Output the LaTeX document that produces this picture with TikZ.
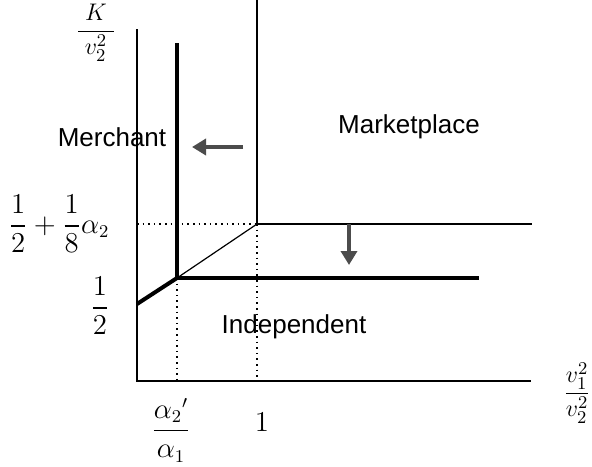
\documentclass[tikz,border=0pt]{standalone}
\usepackage{amsmath}
\usepackage{fontspec}
\setsansfont{Liberation Sans}
\usetikzlibrary{arrows.meta}
\begin{document}
\begin{tikzpicture}[x=0.5pt, y=-0.5pt, >=stealth,
    region/.style={font=\sffamily\fontsize{13}{15}\selectfont},
    tick/.style={font=\fontsize{13.5}{16}\selectfont, inner sep=1pt},
    axlab/.style={font=\fontsize{12.5}{15}\selectfont, inner sep=1pt},
    moveline/.style={draw=black!70, line width=2.2pt, -{Triangle[width=8pt, length=7pt]}}]
    \useasboundingbox (0,0) rectangle (592,466);

    % axes
    \draw[line width=1pt] (137,29) -- (137,381) -- (531,381);

    % dotted guides
    \draw[dotted, line width=0.8pt] (137,224) -- (257,224);
    \draw[dotted, line width=0.8pt] (177,278) -- (177,381);
    \draw[dotted, line width=0.8pt] (257,224) -- (257,381);

    % thin boundaries
    \draw[line width=0.9pt] (257,0) -- (257,224) -- (532,224);
    \draw[line width=0.6pt] (177,278) -- (257,224);

    % thick boundaries
    \draw[line width=2pt] (177,43) -- (177,278) -- (479,278);
    \draw[line width=2pt] (137,304) -- (177,278);

    % shifts
    \draw[moveline] (243,147) -- (192,147);
    \draw[moveline] (349,224) -- (349,265);

    % region names
    \node[region] (merchant) at (112,137) {Merchant};
    \node[region] (market) at (409,127) {Marketplace};
    \node[region] (indep) at (294,327) {Independent};

    % axis labels
    \node[axlab] (ylab) at (96,33) {$\dfrac{\;K\;}{v_2^2}$};
    \node[axlab] (xlab) at (577,393) {$\dfrac{v_1^2}{v_2^2}$};
    \node[tick] (yhigh) at (59,224) {$\dfrac{1}{2}+\dfrac{1}{8}\alpha_2$};
    \node[tick] (ylow) at (100,306) {$\dfrac{1}{2}$};
    \node[tick] (xlow) at (171,430) {$\dfrac{\alpha_2{}'}{\alpha_1}$};
    \node[tick] (xone) at (262,422) {$1$};
\end{tikzpicture}
\end{document}
